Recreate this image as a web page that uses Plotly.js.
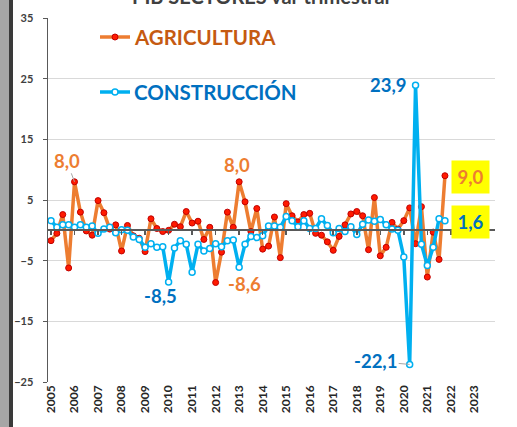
<!DOCTYPE html>
<html>
<head>
<meta charset="utf-8">
<script src="https://cdn.plot.ly/plotly-3.0.1.min.js"></script>
<style>html,body{margin:0;padding:0;background:#fff;}#chart{width:517px;height:427px;}</style>
</head>
<body>
<div id="chart"></div>
<script>
// Quarterly series, 2005 Q1 .. 2021 Q4
var startYear = 2005;
var agricultura = [
  -1.7, -0.5, 2.6, -6.2, 8.0, 3.0, -0.1, -0.8,
  4.9, 2.9, 0.2, 0.9, -3.4, 0.8, -0.9, -1.3,
  -3.5, 1.9, 0.3, -0.2, 0.0, 1.0, 0.6, 3.1,
  1.2, 1.5, -1.5, 0.5, -8.6, -3.6, 3.0, 0.5,
  8.0, 4.7, -0.2, 3.6, -3.1, -2.6, 2.2, -4.5,
  4.4, 2.4, 1.4, 2.6, 2.8, -0.5, -0.8, -1.9,
  -3.3, -1.0, 0.9, 2.7, 3.1, 2.4, -3.2, 5.4,
  -4.2, -2.8, 1.3, 0.2, 1.6, 3.7, -2.2, 3.9,
  -7.7, -0.3, -4.8, 9.0
];
var construccion = [
  1.6, 0.5, 0.9, 0.9, 0.5, 0.9, 0.5, 0.7,
  -0.5, 0.2, 0.5, -0.4, 0.1, 0.0, -1.1, -1.5,
  -2.8, -2.2, -2.8, -2.7, -8.5, -2.9, -1.7, -2.3,
  -6.9, -2.3, -3.4, -3.0, -2.2, -2.7, -1.7, -1.6,
  -6.1, -2.3, -1.0, -1.2, -0.9, 0.7, 0.7, 0.5,
  2.3, 1.6, 0.6, 1.6, 0.3, 0.3, 1.9, 0.8,
  -0.4, 0.3, -0.2, 0.6, -0.7, 1.0, 1.7, 1.5,
  1.8, 0.9, 0.2, 0.0, -4.4, -22.1, 23.9, -2.3,
  -5.8, -2.8, 1.9, 1.6
];
var yearLabels = ['2005','2006','2007','2008','2009','2010','2011','2012','2013','2014','2015','2016','2017','2018','2019','2020','2021','2022','2023'];
var yTicks = [-25, -15, -5, 5, 15, 25, 35];
var titleText = 'PIB SECTORES var trimestral';
var serieNames = ['AGRICULTURA', 'CONSTRUCCIÓN'];

var xs = agricultura.map(function(v, i){ return startYear + i / 4; });
var yearVals = yearLabels.map(function(s){ return +s; });
function fmt(v){ return v.toFixed(1).replace('.', ','); }

var FONT = 'Lato, "Liberation Sans", Arial, sans-serif';
var ORANGE = '#ED7D31', BLUE = '#00B0F0', DBLUE = '#0070C0';

var traces = [
  {x: xs, y: agricultura, type: 'scatter', mode: 'lines+markers', name: serieNames[0],
   line: {color: ORANGE, width: 3.5},
   marker: {color: '#FF1A00', size: 6, line: {color: '#C00000', width: 1}},
   hoverinfo: 'skip'},
  {x: xs, y: construccion, type: 'scatter', mode: 'lines+markers', name: serieNames[1],
   line: {color: BLUE, width: 3.5},
   marker: {color: '#FFFFFF', size: 6, line: {color: BLUE, width: 1.5}},
   hoverinfo: 'skip'},
  {x: [startYear], y: [null], xaxis: 'x2', yaxis: 'y', type: 'scatter', mode: 'markers',
   showlegend: false, hoverinfo: 'skip'}
];

// plot area: x 48..495, y 18..382 (pixels)
function px(p){ return (p - 48) / 447; }
function py(p){ return (382 - p) / 364; }

var xRange = [2004.872, 2023.878];

function lab(arr, i, color, opts){
  var a = {xref: 'x', yref: 'y', x: xs[i], y: arr[i], text: fmt(arr[i]),
    font: {family: FONT, size: 18.5, color: color, weight: 'bold'}, showarrow: false};
  for (var k in opts) a[k] = opts[k];
  return a;
}

var annotations = [
  {xref: 'paper', yref: 'paper', x: px(261), y: py(10), xanchor: 'center', yanchor: 'bottom',
   text: titleText, showarrow: false, font: {family: FONT, size: 20, color: '#404040', weight: 'bold'}},
  {xref: 'paper', yref: 'paper', x: px(132), y: py(37), xanchor: 'left', yanchor: 'middle',
   text: serieNames[0], showarrow: false, font: {family: FONT, size: 20.5, color: '#C55A11', weight: 'bold'}},
  {xref: 'paper', yref: 'paper', x: px(132), y: py(92), xanchor: 'left', yanchor: 'middle',
   text: serieNames[1], showarrow: false, font: {family: FONT, size: 20.5, color: DBLUE, weight: 'bold'}},
  lab(agricultura, 4, ORANGE, {showarrow: true, ax: -8, ay: -21, arrowhead: 0, arrowwidth: 1, arrowcolor: '#A6A6A6'}),
  lab(agricultura, 32, ORANGE, {xshift: -2, yshift: 17}),
  lab(agricultura, 28, ORANGE, {xshift: 28.5, yshift: -1}),
  lab(construccion, 20, DBLUE, {xshift: -8, yshift: -14}),
  lab(construccion, 62, DBLUE, {xshift: -27, yshift: 0}),
  lab(construccion, 61, DBLUE, {showarrow: true, ax: -34, ay: -3, arrowhead: 0, arrowwidth: 1, arrowcolor: '#A6A6A6'}),
  lab(agricultura, 67, ORANGE, {xshift: 25.5, yshift: -1, bgcolor: '#FFFF00', width: 37, height: 32, borderpad: 0}),
  lab(construccion, 67, DBLUE, {xshift: 25.5, yshift: -1, bgcolor: '#FFFF00', width: 37, height: 32, borderpad: 0})
];

var shapes = [
  {type: 'rect', xref: 'paper', yref: 'paper', x0: px(0), x1: px(9), y0: py(430), y1: py(-3),
   fillcolor: '#A6A6A6', line: {width: 0}, layer: 'above'},
  {type: 'rect', xref: 'paper', yref: 'paper', x0: px(9), x1: px(13), y0: py(430), y1: py(-3),
   fillcolor: '#3A3A3A', line: {width: 0}, layer: 'above'},
  {type: 'line', xref: 'paper', yref: 'paper', x0: px(100), x1: px(130), y0: py(37), y1: py(37),
   line: {color: ORANGE, width: 3.5}},
  {type: 'circle', xref: 'paper', yref: 'paper', xsizemode: 'pixel', ysizemode: 'pixel',
   xanchor: px(115), yanchor: py(37), x0: -3, x1: 3, y0: -3, y1: 3,
   fillcolor: '#FF1A00', line: {color: '#C00000', width: 1}},
  {type: 'line', xref: 'paper', yref: 'paper', x0: px(100), x1: px(130), y0: py(92), y1: py(92),
   line: {color: BLUE, width: 3.5}},
  {type: 'circle', xref: 'paper', yref: 'paper', xsizemode: 'pixel', ysizemode: 'pixel',
   xanchor: px(115), yanchor: py(92), x0: -3, x1: 3, y0: -3, y1: 3,
   fillcolor: '#FFFFFF', line: {color: BLUE, width: 1.5}}
];

var layout = {
  width: 517, height: 427,
  margin: {l: 48, r: 22, t: 18, b: 45, pad: 0},
  paper_bgcolor: '#FFFFFF', plot_bgcolor: '#FFFFFF',
  showlegend: false,
  xaxis: {range: xRange, tickmode: 'array', tickvals: yearVals, ticktext: yearLabels,
    tickangle: -90, tickfont: {family: FONT, size: 12, color: '#262626', weight: 'bold'},
    showgrid: false, zeroline: false, showline: false, ticks: '', fixedrange: true},
  xaxis2: {range: xRange, overlaying: 'x', anchor: 'free', position: 25 / 60,
    tickmode: 'array', tickvals: yearVals, showticklabels: false,
    ticks: 'outside', ticklen: 4, tickwidth: 1.5, tickcolor: '#595959',
    showline: true, linecolor: '#595959', linewidth: 2, showgrid: false, zeroline: false},
  yaxis: {range: [-25, 35], tickmode: 'array', tickvals: yTicks,
    tickfont: {family: FONT, size: 11, color: '#404040', weight: 'bold'},
    showgrid: true, gridcolor: '#D9D9D9', gridwidth: 1,
    zeroline: false, showline: true, linecolor: '#595959', linewidth: 1.5,
    ticks: 'outside', ticklen: 4, tickcolor: '#595959', ticklabelstandoff: 7},
  annotations: annotations,
  shapes: shapes
};

Plotly.newPlot('chart', traces, layout, {staticPlot: true, displayModeBar: false});
</script>
</body>
</html>
